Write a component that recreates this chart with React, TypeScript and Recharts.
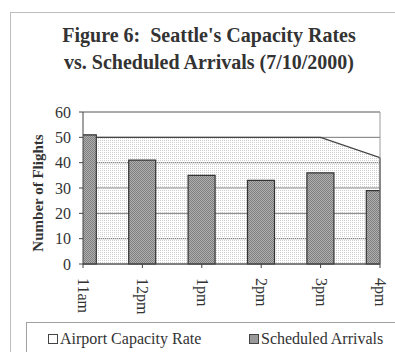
import React from 'react';
import {
  ComposedChart,
  Area,
  Bar,
  XAxis,
  YAxis,
  CartesianGrid,
  ReferenceLine
} from 'recharts';

const hours = ['11am', '12pm', '1pm', '2pm', '3pm', '4pm'];
const capacityRate = [50, 50, 50, 50, 50, 42];
const scheduledArrivals = [51, 41, 35, 33, 36, 29];
const yTicks = [0, 10, 20, 30, 40, 50, 60];

const data = hours.map((hour, i) => ({
  x: i,
  hour,
  capacity: capacityRate[i],
  arrivals: scheduledArrivals[i]
}));

const serif = '"Liberation Serif", "Times New Roman", serif';

// hour labels run top-to-bottom under each tick
const HourTick = (props: any) => {
  const { x, y, payload } = props;
  return (
    <text
      x={x}
      y={y}
      dx={8}
      dy={5}
      transform={`rotate(90, ${x}, ${y})`}
      textAnchor="start"
      fill="#333"
      fontFamily={serif}
      fontSize={16}
    >
      {hours[payload.value]}
    </text>
  );
};

export default function App() {
  const last = hours.length - 1;
  return (
    <div
      style={{
        position: 'absolute',
        left: 0,
        top: 0,
        width: 395,
        height: 352,
        overflow: 'hidden',
        background: '#fff',
        fontFamily: serif
      }}
    >
      <div
        style={{
          position: 'absolute',
          left: 10,
          top: 12,
          width: 400,
          height: 360,
          border: '1px solid #bdbdbd'
        }}
      />
      <div
        style={{
          position: 'absolute',
          left: 0,
          width: 418,
          top: 22,
          textAlign: 'center',
          fontWeight: 'bold',
          fontSize: 20,
          lineHeight: '27px',
          color: '#333',
          whiteSpace: 'nowrap'
        }}
      >
        Figure 6:&nbsp; Seattle's Capacity Rates
        <br />
        vs. Scheduled Arrivals (7/10/2000)
      </div>

      <div style={{ position: 'absolute', left: 0, top: 0 }}>
        <ComposedChart
          width={395}
          height={352}
          data={data}
          margin={{ top: 112, right: 15, left: 23, bottom: 38 }}
        >
          <defs>
            <pattern id="arrivalsFill" width="2" height="2" patternUnits="userSpaceOnUse">
              <rect width="2" height="2" fill="#b0b0b0" />
              <rect width="1" height="1" fill="#7e7e7e" />
              <rect x="1" y="1" width="1" height="1" fill="#7e7e7e" />
            </pattern>
            <pattern id="capacityFill" width="2" height="2" patternUnits="userSpaceOnUse">
              <rect width="1" height="1" fill="#cfcfcf" />
            </pattern>
          </defs>
          <CartesianGrid vertical={false} stroke="#777" />
          <XAxis
            type="number"
            dataKey="x"
            domain={[0, last]}
            ticks={hours.map((_, i) => i)}
            interval={0}
            allowDataOverflow
            height={50}
            tickSize={4}
            tick={<HourTick />}
            axisLine={{ stroke: '#444' }}
            tickLine={{ stroke: '#444' }}
          />
          <YAxis
            domain={[0, 60]}
            ticks={yTicks}
            interval={0}
            width={60}
            tickSize={4}
            tickMargin={8}
            axisLine={{ stroke: '#444' }}
            tickLine={{ stroke: '#444' }}
            tick={{ fill: '#333', fontFamily: serif, fontSize: 16 }}
          />
          <ReferenceLine y={60} stroke="#9a9a9a" />
          <ReferenceLine x={last} stroke="#9a9a9a" />
          <Area
            type="linear"
            dataKey="capacity"
            stroke="#444"
            strokeWidth={1.2}
            fill="url(#capacityFill)"
            fillOpacity={1}
            isAnimationActive={false}
          />
          <ReferenceLine
            segment={[
              { x: last, y: 0 },
              { x: last, y: capacityRate[last] }
            ]}
            stroke="#444"
          />
          <Bar
            dataKey="arrivals"
            barSize={27}
            fill="url(#arrivalsFill)"
            stroke="#333"
            strokeWidth={1.2}
            isAnimationActive={false}
          />
        </ComposedChart>
      </div>

      <div
        style={{
          position: 'absolute',
          left: 38,
          top: 193,
          width: 0,
          height: 0
        }}
      >
        <div
          style={{
            position: 'absolute',
            left: -80,
            top: -10,
            width: 160,
            lineHeight: '20px',
            textAlign: 'center',
            transform: 'rotate(-90deg)',
            fontWeight: 'bold',
            fontSize: 15,
            color: '#333',
            whiteSpace: 'nowrap'
          }}
        >
          Number of Flights
        </div>
      </div>

      <div
        style={{
          position: 'absolute',
          left: 26,
          top: 322,
          width: 400,
          height: 60,
          border: '1px solid #a0a0a0',
          fontSize: 16,
          color: '#333'
        }}
      >
        <div style={{ position: 'absolute', left: 21, top: 7, display: 'flex', alignItems: 'center', whiteSpace: 'nowrap' }}>
          <span style={{ width: 8, height: 8, border: '1px solid #444', background: '#fff', marginRight: 2 }} />
          Airport Capacity Rate
        </div>
        <div style={{ position: 'absolute', left: 222, top: 7, display: 'flex', alignItems: 'center', whiteSpace: 'nowrap' }}>
          <span style={{ width: 8, height: 8, border: '1px solid #444', background: '#999', marginRight: 2 }} />
          Scheduled Arrivals
        </div>
      </div>
    </div>
  );
}
